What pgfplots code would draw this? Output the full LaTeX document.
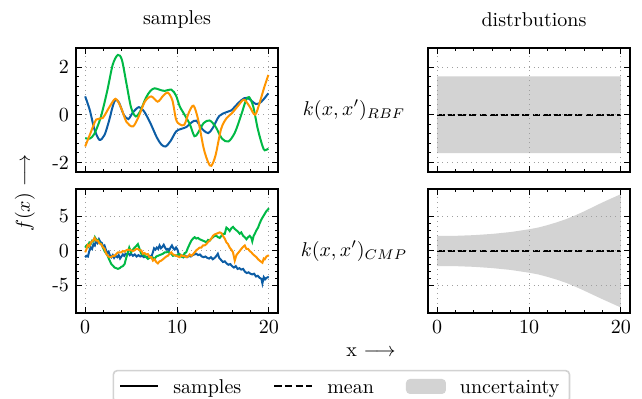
\documentclass[border=0pt]{standalone}
\usepackage{pgfplots}
\pgfplotsset{compat=1.18}
\definecolor{cblue}{HTML}{0C5DA5}
\definecolor{cgreen}{HTML}{00B945}
\definecolor{corange}{HTML}{FF9500}
\definecolor{band}{HTML}{D3D3D3}
\pgfplotsset{
  myax/.style={
    width=101pt, height=62pt, scale only axis,
    anchor=north west,
    xmin=-1, xmax=21, xtick={0,10,20},
    minor x tick num=4, minor y tick num=4,
    tick align=inside,
    major tick length=2.8pt, minor tick length=1.6pt,
    every tick/.style={black, line width=0.5pt},
    grid=major,
    major grid style={dotted, gray!75, line width=0.5pt},
    axis line style={line width=0.7pt},
    tick label style={font=\normalsize},
  },
  toprow/.style={ymin=-2.4, ymax=2.8, ytick={-2,0,2}, yticklabels={-2,0,2}, xticklabels={}},
  botrow/.style={ymin=-9, ymax=9, ytick={-5,0,5}, yticklabels={-5,0,5}, xticklabels={0,10,20}},
  sample/.style={line width=1pt},
  meanline/.style={black, line width=1pt, dash pattern=on 3.7pt off 1.6pt},
  lineleg/.style={legend image code/.code={\draw[##1] (0pt,0pt) -- (19pt,0pt);}},
  patchleg/.style={legend image code/.code={\fill[##1] (0pt,-3.75pt) rectangle (20pt,3.75pt);}},
}
\begin{document}
\begin{tikzpicture}
% ---------------- top left: RBF samples
\begin{axis}[myax, toprow, at={(0pt,0pt)}]
\addplot[cblue, sample, smooth] coordinates {
(0,0.77) (0.5,0.2) (1,-0.6) (1.55,-1.05) (2.1,-0.85) (2.6,-0.25) (3.0,0.35) (3.3,0.63) (3.7,0.5) (4.2,0.0) (4.7,-0.18) (5.2,0.1) (5.85,0.32) (6.4,0.15) (7.1,-0.35) (7.8,-0.95) (8.3,-1.25) (8.76,-1.33) (9.3,-1.1) (9.9,-0.7) (10.4,-0.6) (11.0,-0.52) (11.6,-0.32) (12.1,-0.25) (12.8,-0.62) (13.4,-0.77) (13.9,-0.55) (14.6,-0.05) (15.4,0.11) (15.9,0.18) (16.7,0.5) (17.3,0.69) (17.8,0.68) (18.6,0.45) (19.2,0.55) (19.95,0.9)
};
\addplot[cgreen, sample, smooth] coordinates {
(0,-0.98) (0.5,-1.0) (1.0,-0.8) (1.7,-0.1) (2.4,1.0) (3.0,2.1) (3.56,2.51) (4.0,2.3) (4.5,1.3) (5.0,0.3) (5.5,-0.07) (6.0,0.15) (6.6,0.7) (7.1,1.0) (7.56,1.11) (8.1,1.05) (8.65,1.0) (9.4,1.05) (9.9,0.8) (10.3,0.35) (10.9,-0.05) (11.4,-0.4) (11.9,-0.9) (12.3,-0.75) (12.9,-0.35) (13.55,-0.24) (14.2,-0.5) (14.9,-1.0) (15.6,-1.12) (16.3,-0.75) (17.0,0.0) (17.5,0.6) (17.85,0.74) (18.3,0.35) (18.8,-0.6) (19.3,-1.3) (19.55,-1.49) (19.95,-1.42)
};
\addplot[corange, sample, smooth] coordinates {
(0,-1.33) (0.6,-0.75) (1.2,-0.2) (1.9,-0.14) (2.6,0.3) (3.3,0.67) (3.9,0.3) (4.5,-0.3) (5.2,-0.49) (5.8,-0.1) (6.5,0.55) (7.2,0.77) (7.9,0.55) (8.5,0.8) (9.0,0.93) (9.5,0.6) (9.9,-0.2) (10.3,-0.4) (10.8,-0.42) (11.3,0.1) (11.8,0.38) (12.3,-0.2) (12.9,-1.4) (13.4,-2.0) (13.74,-2.14) (14.2,-1.7) (14.8,-0.6) (15.4,-0.14) (16.0,0.07) (16.7,0.4) (17.3,0.63) (17.9,0.35) (18.5,0.0) (19.0,0.5) (19.5,1.15) (19.95,1.67)
};
\end{axis}
% ---------------- bottom left: CMP samples
\begin{axis}[myax, botrow, at={(0pt,-70.5pt)}]
\addplot[cblue, sample] coordinates {
(0,-0.9) (0.15,-0.7) (0.3,-0.8) (0.45,0.0) (0.6,0.5) (0.75,0.3) (0.9,1.0) (1.05,0.8) (1.2,1.6) (1.35,1.2) (1.5,1.7) (1.65,1.3) (1.8,1.2) (1.95,0.6) (2.1,0.8) (2.25,0.2) (2.4,-0.3) (2.55,-0.1) (2.7,-0.7) (2.85,-0.9) (3.0,-0.6) (3.15,-1.0) (3.3,-0.7) (3.5,-0.9) (3.65,-0.6) (3.8,-1.1) (3.95,-0.8) (4.1,-0.5) (4.25,-0.7) (4.4,-0.4) (4.55,-0.5) (4.7,-0.3) (4.85,-0.6) (5.0,-0.4) (5.2,-0.7) (5.4,-0.5) (5.6,-0.8) (5.8,-0.6) (6.0,-0.8) (6.2,-0.7) (6.4,-0.9) (6.6,-0.8) (6.8,-0.9) (7.0,-0.7) (7.2,-0.9) (7.35,-0.3) (7.5,0.4) (7.65,0.2) (7.8,0.5) (7.95,0.3) (8.1,0.8) (8.25,0.4) (8.4,0.6) (8.55,0.9) (8.7,0.5) (8.85,0.2) (9.0,0.3) (9.15,0.1) (9.3,0.5) (9.45,0.8) (9.6,0.4) (9.75,0.2) (9.9,0.5) (10.05,0.2) (10.2,-0.5) (10.35,-0.7) (10.5,-0.6) (10.7,-0.9) (10.9,-0.7) (11.1,-0.9) (11.3,-0.7) (11.5,-0.8) (11.7,-0.6) (11.9,-0.5) (12.1,-0.4) (12.3,-0.6) (12.5,-0.5) (12.7,-0.8) (12.9,-0.9) (13.1,-0.8) (13.3,-1.0) (13.5,-1.1) (13.7,-0.9) (13.9,-1.2) (14.1,-1.0) (14.3,-0.7) (14.45,-0.4) (14.6,-1.0) (14.8,-1.3) (15.0,-1.6) (15.2,-1.5) (15.4,-1.8) (15.6,-2.0) (15.8,-1.9) (16.0,-2.2) (16.2,-2.4) (16.4,-2.2) (16.6,-2.6) (16.8,-2.5) (17.0,-2.7) (17.2,-2.6) (17.4,-3.0) (17.6,-3.2) (17.8,-3.1) (18.0,-3.3) (18.2,-3.4) (18.4,-3.3) (18.6,-3.7) (18.8,-3.6) (19.0,-3.9) (19.2,-4.05) (19.3,-4.7) (19.45,-3.8) (19.6,-4.1) (19.75,-3.9) (19.9,-3.8) (20,-3.85)
};
\addplot[cgreen, sample] coordinates {
(0,0.5) (0.15,0.8) (0.3,0.6) (0.45,1.2) (0.6,1.0) (0.75,1.5) (0.9,1.4) (1.05,2.0) (1.2,1.6) (1.4,1.6) (1.55,1.2) (1.75,1.0) (1.9,0.6) (2.1,0.0) (2.25,-0.3) (2.45,-0.7) (2.6,-1.2) (2.85,-1.9) (3.0,-2.1) (3.2,-2.4) (3.4,-2.5) (3.56,-2.6) (3.75,-2.5) (3.93,-2.3) (4.1,-2.2) (4.29,-1.9) (4.47,-1.0) (4.65,-0.2) (4.8,0.5) (5.0,-0.2) (5.2,0.2) (5.38,0.5) (5.55,0.7) (5.74,1.0) (5.92,0.3) (6.1,-0.4) (6.29,-0.5) (6.47,-0.7) (6.65,-0.9) (6.83,-1.15) (7.0,-1.0) (7.2,-0.9) (7.38,-0.95) (7.56,-1.15) (7.74,-0.8) (7.92,-0.7) (8.1,-0.6) (8.29,-0.5) (8.47,-0.4) (8.65,-0.2) (8.83,-0.2) (9.0,-0.1) (9.2,-0.3) (9.38,-0.4) (9.56,-0.7) (9.74,-0.6) (9.92,-0.7) (10.1,-0.5) (10.29,-0.45) (10.47,-0.8) (10.65,-0.9) (10.83,-0.3) (11.0,-0.2) (11.2,0.5) (11.38,1.0) (11.56,1.5) (11.74,1.8) (11.92,2.0) (12.1,1.8) (12.29,1.9) (12.47,1.7) (12.65,1.6) (12.83,1.5) (13.0,1.4) (13.2,1.25) (13.38,1.6) (13.56,1.5) (13.74,1.8) (13.92,2.0) (14.1,2.2) (14.29,2.2) (14.47,2.0) (14.65,1.9) (14.83,2.2) (15.0,2.5) (15.2,2.5) (15.38,3.4) (15.56,3.2) (15.74,2.9) (15.92,3.3) (16.1,3.5) (16.29,3.2) (16.47,3.0) (16.65,2.8) (16.83,2.5) (17.0,2.7) (17.2,2.2) (17.38,2.0) (17.56,1.7) (17.74,2.0) (17.92,2.2) (18.1,1.9) (18.2,1.4) (18.35,2.2) (18.47,2.5) (18.65,3.0) (18.83,3.4) (19.0,4.0) (19.2,4.6) (19.38,5.0) (19.56,5.4) (19.74,5.8) (19.9,6.0) (20,6.2)
};
\addplot[corange, sample] coordinates {
(0,-0.2) (0.15,0.3) (0.29,0.9) (0.45,0.7) (0.65,1.3) (0.85,1.5) (1.02,1.9) (1.2,1.5) (1.38,1.5) (1.55,1.1) (1.74,1.0) (1.9,0.6) (2.11,0.3) (2.3,-0.4) (2.47,-0.7) (2.65,-0.9) (2.84,-0.9) (3.0,-0.7) (3.2,-0.7) (3.4,-0.4) (3.56,-0.2) (3.75,-0.2) (3.93,-0.2) (4.1,0.0) (4.29,-0.1) (4.47,0.1) (4.65,0.2) (4.8,0.15) (5.0,0.1) (5.2,0.0) (5.38,0.1) (5.56,0.3) (5.74,0.3) (5.92,0.1) (6.1,0.1) (6.29,-0.4) (6.47,-0.3) (6.65,-0.5) (6.83,-0.45) (7.0,-0.9) (7.2,-0.9) (7.38,-1.4) (7.56,-1.2) (7.74,-1.6) (7.92,-1.8) (8.1,-1.5) (8.29,-1.4) (8.47,-1.2) (8.65,-1.0) (8.83,-0.8) (9.0,-0.7) (9.2,-0.4) (9.38,-0.2) (9.56,-0.5) (9.74,-0.6) (9.92,-0.7) (10.1,-0.8) (10.29,-0.9) (10.47,-0.6) (10.65,-0.75) (10.83,-0.7) (11.0,-0.9) (11.2,-0.8) (11.38,-0.5) (11.56,-0.7) (11.74,-0.5) (11.92,-0.2) (12.1,0.1) (12.29,0.3) (12.47,0.5) (12.65,0.5) (12.83,0.8) (13.0,0.8) (13.2,1.0) (13.38,1.3) (13.56,1.5) (13.74,1.8) (13.92,2.2) (14.1,2.4) (14.29,2.5) (14.47,2.6) (14.65,2.7) (14.83,2.6) (15.0,2.2) (15.2,1.8) (15.38,1.25) (15.56,1.0) (15.74,0.5) (15.92,0.2) (16.1,-0.2) (16.29,-1.4) (16.47,-0.6) (16.65,-0.3) (16.83,0.0) (17.0,0.3) (17.2,0.6) (17.38,0.8) (17.56,0.3) (17.74,0.3) (17.92,0.0) (18.1,-0.2) (18.29,-0.5) (18.47,-0.7) (18.65,-0.9) (18.83,-1.2) (19.0,-1.4) (19.2,-1.6) (19.3,-1.7) (19.45,-1.1) (19.56,-1.2) (19.74,-0.8) (19.9,-0.7) (20,-0.6)
};
\end{axis}
% ---------------- top right: RBF distribution
\begin{axis}[myax, toprow, yticklabels={}, at={(176pt,0pt)}, axis on top]
\addplot[fill=band, draw=none] coordinates {(0,1.61) (20,1.61) (20,-1.61) (0,-1.61) (0,1.61)};
\addplot[meanline] coordinates {(0,0) (20,0)};
\end{axis}
% ---------------- bottom right: CMP distribution
\begin{axis}[myax, botrow, yticklabels={}, at={(176pt,-70.5pt)}, axis on top,
  legend columns=3,
  legend style={at={(-0.4286,-0.458)}, anchor=north, draw=gray!35, line width=0.8pt,
    rounded corners=2pt, fill=white, font=\normalsize, inner xsep=3pt, inner ysep=1pt,
    /tikz/every odd column/.append style={column sep=5pt},
    /tikz/every even column/.append style={column sep=14pt}},
  legend cell align=left]
\addlegendimage{black, line width=1pt, lineleg}
\addlegendentry{\strut samples}
\addlegendimage{black, line width=1pt, dash pattern=on 3.7pt off 1.6pt, lineleg}
\addlegendentry{\strut mean}
\addlegendimage{fill=band, draw=none, patchleg}
\addlegendentry{\strut uncertainty}
\addplot[fill=band, draw=none, forget plot] coordinates {
(0,2.18) (2,2.2) (4,2.3) (6,2.48) (8,2.75) (10,3.15) (11,3.4) (12,3.75) (13,4.15) (14,4.6) (15,5.15) (16,5.75) (17,6.4) (18,7.05) (19,7.65) (20,8.25)
(20,-8.2) (19,-7.6) (18,-7.0) (17,-6.38) (16,-5.75) (15,-5.15) (14,-4.6) (13,-4.15) (12,-3.75) (11,-3.4) (10,-3.15) (8,-2.75) (6,-2.48) (4,-2.3) (2,-2.2) (0,-2.18) (0,2.18)
};
\addplot[meanline, forget plot] coordinates {(0,0) (20,0)};
\end{axis}
% ---------------- labels
\node at (50.5pt,14pt) {samples};
\node at (229pt,14pt) {distrbutions};
\node at (139pt,-31pt) {$k(x,x')_{RBF}$};
\node at (139pt,-101.5pt) {$k(x,x')_{CMP}$};
\node[rotate=90] at (-25.5pt,-72.5pt) {$f(x)$ $\longrightarrow$};
\node at (147.5pt,-152pt) {x $\longrightarrow$};
\pgfresetboundingbox
\path[use as bounding box] (-38pt,24pt) rectangle (283pt,-175.5pt);
\end{tikzpicture}
\end{document}
